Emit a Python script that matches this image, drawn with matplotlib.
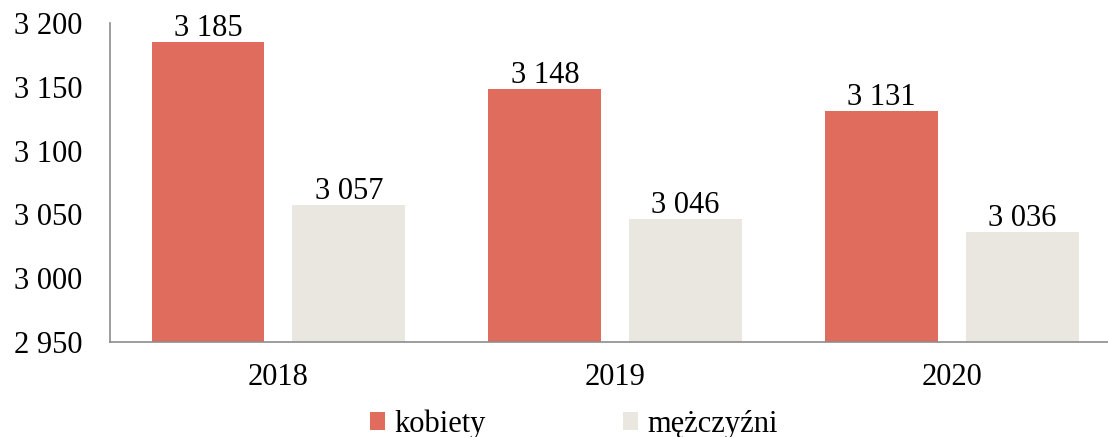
import matplotlib.pyplot as plt
import numpy as np

years = ["2018", "2019", "2020"]
kobiety = [3185, 3148, 3131]
mezczyzni = [3057, 3046, 3036]
series_names = ["kobiety", "mężczyźni"]


def fmt(v):
    return f"{v:,.0f}".replace(",", " ")


plt.rcParams["font.family"] = ["Liberation Serif", "DejaVu Serif"]
FS = 22

fig = plt.figure(figsize=(11.08, 4.37), dpi=100)
ax = fig.add_axes([0.0993, 0.2174, 0.912, 0.730])

x = np.arange(len(years))
w = 0.335
off = 0.209
b1 = ax.bar(x - off, kobiety, w, color="#E06C5E", label=series_names[0])
b2 = ax.bar(x + off, mezczyzni, w, color="#EAE6E0", label=series_names[1])

for bars, vals in [(b1, kobiety), (b2, mezczyzni)]:
    for r, v in zip(bars, vals):
        ax.annotate(fmt(v), (r.get_x() + r.get_width() / 2, v),
                    xytext=(0, 4.5), textcoords="offset points",
                    ha="center", va="baseline", fontsize=FS)

ax.set_xlim(-0.5, 2.5)
ax.set_ylim(2950, 3200)
ax.set_yticks(range(2950, 3201, 50))
ax.set_yticklabels([fmt(v) for v in range(2950, 3201, 50)], fontsize=FS)
ax.set_xticks(x)
ax.set_xticklabels(years, fontsize=FS)
ax.tick_params(axis="y", length=0, pad=20)
ax.tick_params(axis="x", length=0, pad=15)

for s in ["top", "right"]:
    ax.spines[s].set_visible(False)
for s in ["left", "bottom"]:
    ax.spines[s].set_color("#8c8c8c")
    ax.spines[s].set_linewidth(1.2)

fig.legend(loc="center", bbox_to_anchor=(0.518, 0.03), ncol=2, frameon=False,
           fontsize=FS, handlelength=0.5, handleheight=0.5, handletextpad=0.3,
           columnspacing=4.5, borderpad=0)

fig.savefig("out.png", dpi=100)
